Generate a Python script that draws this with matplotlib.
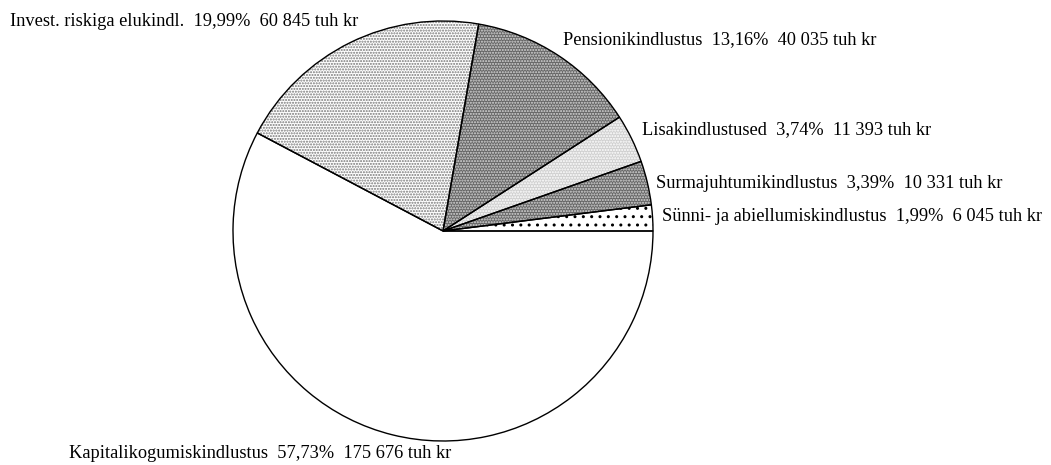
import matplotlib.pyplot as plt

plt.rcParams['font.family'] = ['Liberation Serif', 'DejaVu Serif']
plt.rcParams['hatch.linewidth'] = 1.0

# data (counterclockwise from 0 degrees)
names = ['Sünni- ja abiellumiskindlustus', 'Surmajuhtumikindlustus', 'Lisakindlustused',
         'Pensionikindlustus', 'Invest. riskiga elukindl.', 'Kapitalikogumiskindlustus']
percents = [1.99, 3.39, 3.74, 13.16, 19.99, 57.73]
amounts = ['6 045', '10 331', '11 393', '40 035', '60 845', '175 676']

faces = ['white', '#666666', '#d0d0d0', '#666666', 'white', 'white']
hatch_cols = ['black', '#d8d8d8', 'white', '#d8d8d8', '#777777', 'white']
hatches = ['..', '......', '......', '......', '......', None]

# label positions in pixels (left x, baseline y)
label_px = [(662, 221), (656, 188), (642, 134), (563, 44), (10, 26), (69, 458)]

W, H = 1051, 465
fig = plt.figure(figsize=(W / 100, H / 100), dpi=100)
ax = fig.add_axes([233 / W, (H - 441) / H, 420 / W, 420 / H])

wedges, _ = ax.pie(percents, startangle=0, counterclock=True, radius=1,
                   wedgeprops=dict(linewidth=0))
for w, fc, hc, hp in zip(wedges, faces, hatch_cols, hatches):
    w.set_facecolor(fc)
    w.set_edgecolor(hc)
    if hp:
        w.set_hatch(hp)

# outlines on top
ax.pie(percents, startangle=0, counterclock=True, radius=1,
       wedgeprops=dict(fill=False, edgecolor='black', linewidth=1.0))
ax.set_xlim(-1, 1)
ax.set_ylim(-1, 1)
ax.set_aspect('equal')

for name, p, a, (px, py) in zip(names, percents, amounts, label_px):
    pct = f"{p:.2f}".replace('.', ',')
    txt = f"{name}  {pct}%  {a} tuh kr"
    fig.text(px / W, 1 - py / H, txt, ha='left', va='baseline', fontsize=13.2)

fig.savefig('out.png', dpi=100)
